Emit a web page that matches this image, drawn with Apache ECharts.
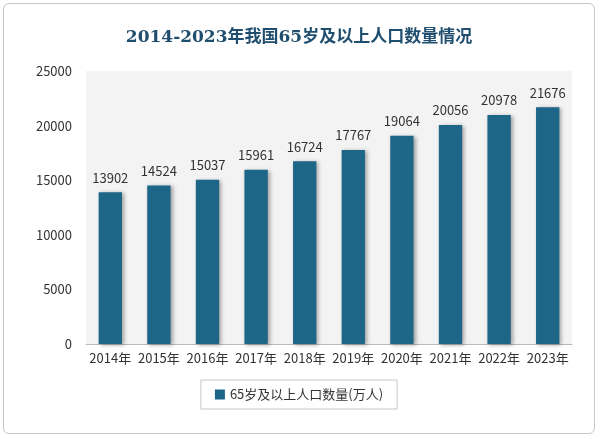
<!DOCTYPE html>
<html><head><meta charset="utf-8">
<script src="https://cdn.jsdelivr.net/npm/echarts@6/dist/echarts.min.js"></script>
<style>
html,body{margin:0;padding:0;background:#fff;}
#c{position:absolute;left:3px;top:3px;width:592px;height:431px;border:1px solid #c8c8c8;border-radius:6px;box-sizing:border-box;}
</style></head>
<body><div id="c"></div>
<script>
// 2014-2023 年 65 岁及以上人口（万人）
const years = ['2014年','2015年','2016年','2017年','2018年','2019年','2020年','2021年','2022年','2023年'];
const population = [13902, 14524, 15037, 15961, 16724, 17767, 19064, 20056, 20978, 21676];
const seriesName = '65岁及以上人口数量(万人)';

const FONT = '"Noto Sans CJK SC", "Noto Sans", sans-serif';
const chart = echarts.init(document.getElementById('c'));
chart.setOption({
  backgroundColor: 'transparent',
  title: {
    text: '2014-2023年我国65岁及以上人口数量情况', left: 'center', top: 20,
    textStyle: { color: '#1f4e6e', fontSize: 17, fontWeight: 'bold', fontFamily: '"DejaVu Serif", "Noto Sans CJK SC", serif' },
  },
  grid: { left: 82, right: 22, top: 67, bottom: 89 },
  legend: {
    bottom: 24, left: 'center', itemWidth: 10, itemHeight: 10, icon: 'rect',
    padding: [8, 14], borderColor: '#c8c8c8', borderWidth: 1,
    textStyle: { color: '#333', fontSize: 13, fontFamily: FONT },
  },
  xAxis: {
    type: 'category', data: years,
    axisLine: { lineStyle: { color: '#bbb' } }, axisTick: { show: false },
    axisLabel: { color: '#333', fontSize: 13, fontFamily: FONT, interval: 0 },
    splitArea: { show: true, areaStyle: { color: ['#f3f3f3', '#f3f3f3'] } },
  },
  yAxis: {
    type: 'value', min: 0, max: 25000, interval: 5000,
    axisLine: { show: false }, axisTick: { show: false },
    axisLabel: { color: '#333', fontSize: 13, fontFamily: FONT, margin: 14, formatter: (v) => String(v) },
    splitLine: { show: true, lineStyle: { color: '#fff', width: 2 } },
  },
  series: [{
    name: seriesName, type: 'bar', data: population, barWidth: '48%',
    itemStyle: { color: '#1d6687', shadowColor: 'rgba(0,0,0,0.35)', shadowBlur: 4, shadowOffsetX: 2, shadowOffsetY: 1 },
    label: { show: true, position: 'top', distance: 8, color: '#333', fontSize: 13, fontFamily: FONT },
  }],
  animation: false,
});
</script></body></html>
